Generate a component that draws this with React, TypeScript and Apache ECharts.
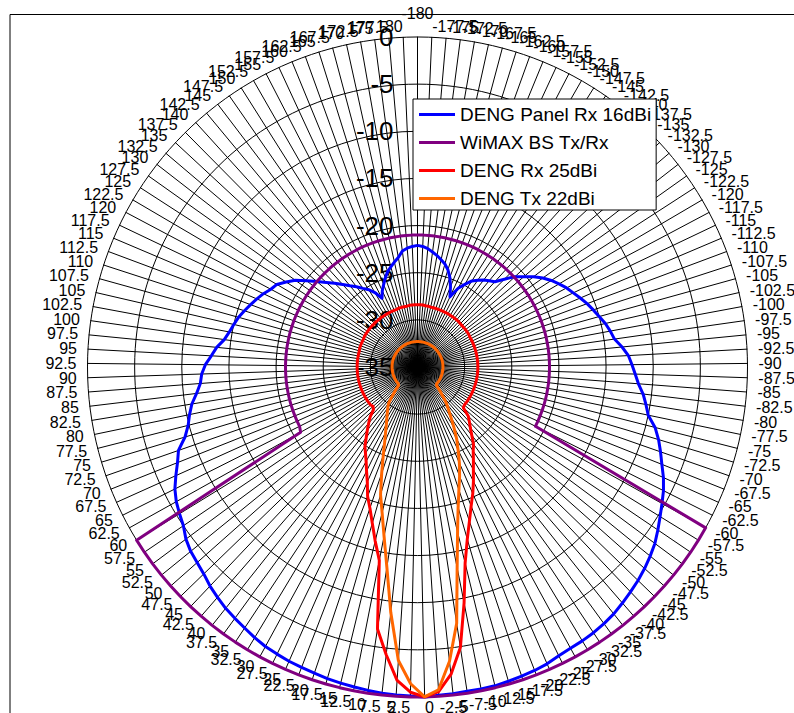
import { useEffect, useRef } from 'react';
import * as echarts from 'echarts';

const FONT = '"Liberation Sans", Arial, sans-serif';

// Angle categories (deg), clockwise from the top spoke: -180, -177.5, ..., 180
const categories: number[] = Array.from({ length: 145 }, (_, i) => -180 + i * 2.5);

// Radial tick labels (dB), centre -> rim
const radialTicks = [-35, -30, -25, -20, -15, -10, -5, 0];

const seriesNames = ['DENG Panel Rx 16dBi', 'WiMAX BS Tx/Rx', 'DENG Rx 25dBi', 'DENG Tx 22dBi'];
const seriesColors = ['#0000FF', '#800080', '#FF0000', '#FF6600'];

// Values in category order (-180 ... 180)
const panelRx16 = [
  -22.1, -22.2, -22.4, -22.7, -23.0, -23.35, -23.7, -24.2, -24.9, -25.8,
  -26.8, -25.6, -24.9, -24.2, -23.8, -23.4, -23.1, -22.8, -21.9, -20.9,
  -20.2, -19.4, -18.7, -18.1, -17.6, -17.1, -16.7, -16.25, -15.8, -15.4,
  -15.0, -14.55, -14.2, -13.9, -13.2, -12.6, -12.25, -11.9, -11.5, -10.9,
  -10.45, -10.0, -9.0, -8.3, -7.7, -7.1, -6.4, -5.8, -5.3, -4.77,
  -4.2, -3.63, -3.2, -2.8, -2.45, -2.15, -1.85, -1.55, -1.35, -1.2,
  -1.1, -1.05, -0.9, -0.65, -0.5, -0.4, -0.3, -0.2, -0.2, -0.2,
  -0.15, -0.1, 0, -0.1, -0.15, -0.2, -0.3, -0.4, -0.5, -0.6,
  -0.75, -0.85, -0.95, -1.1, -1.25, -1.5, -1.8, -2.05, -2.3, -2.65,
  -3.0, -3.45, -3.75, -4.0, -4.4, -5.0, -5.35, -5.7, -6.2, -6.9,
  -7.6, -8.15, -9.25, -9.9, -10.3, -10.75, -11.4, -11.9, -12.1, -12.5,
  -13.1, -13.6, -14.3, -14.7, -15.0, -15.3, -15.7, -16.1, -16.5, -16.9,
  -17.4, -17.7, -18.4, -19.1, -20.1, -21.0, -21.8, -22.5, -23.2, -23.8,
  -24.3, -24.85, -25.3, -25.9, -26.8, -26.1, -25.55, -24.95, -24.4, -24.0,
  -23.6, -23.2, -22.6, -22.35, -22.2,
];

const wimaxBs = [
  -21, -21, -21, -21, -21, -21, -21, -21, -21, -21,
  -21, -21, -21, -21, -21, -21, -21, -21, -21, -21,
  -21, -21, -21, -21, -21, -21, -21, -21, -21, -21,
  -21, -21, -21, -21, -21, -21, -21, -21, -21, -21,
  -21, -21, -21, -21, -21, -21, -21, -21, 0, 0,
  0, 0, 0, 0, 0, 0, 0, 0, 0, 0,
  0, 0, 0, 0, 0, 0, 0, 0, 0, 0,
  0, 0, 0, 0, 0, 0, 0, 0, 0, 0,
  0, 0, 0, 0, 0, 0, 0, 0, 0, 0,
  0, 0, 0, 0, 0, 0, 0, -20.8, -21, -21,
  -21, -21, -21, -21, -21, -21, -21, -21, -21, -21,
  -21, -21, -21, -21, -21, -21, -21, -21, -21, -21,
  -21, -21, -21, -21, -21, -21, -21, -21, -21, -21,
  -21, -21, -21, -21, -21, -21, -21, -21, -21, -21,
  -21, -21, -21, -21, -21,
];

const rx25 = [
  -28.4, -28.4, -28.4, -28.45, -28.45, -28.5, -28.5, -28.5, -28.5, -28.5,
  -28.5, -28.5, -28.5, -28.5, -28.5, -28.5, -28.5, -28.5, -28.55, -28.55,
  -28.55, -28.55, -28.55, -28.55, -28.6, -28.6, -28.6, -28.6, -28.6, -28.6,
  -28.6, -28.6, -28.6, -28.6, -28.6, -28.6, -28.6, -28.6, -28.6, -28.6,
  -28.6, -28.6, -28.6, -28.6, -28.6, -28.6, -28.6, -28.6, -28.6, -28.6,
  -28.6, -28.6, -28.6, -28.5, -27.5, -27.0, -26.45, -25.75, -24.9, -24.3,
  -23.5, -22.6, -21.5, -20.35, -19.2, -17.75, -16.0, -13.6, -9.5, -4.9,
  -2.2, -0.5, 0, -0.5, -1.7, -4.3, -6.9, -14.1, -16.0, -17.75,
  -19.2, -20.3, -21.7, -22.7, -23.6, -24.3, -24.9, -25.75, -26.45, -27.1,
  -27.7, -28.5, -28.7, -28.6, -28.6, -28.6, -28.6, -28.6, -28.6, -28.6,
  -28.6, -28.6, -28.6, -28.6, -28.6, -28.6, -28.6, -28.6, -28.6, -28.6,
  -28.6, -28.6, -28.6, -28.6, -28.6, -28.6, -28.55, -28.55, -28.55, -28.55,
  -28.55, -28.5, -28.5, -28.5, -28.5, -28.5, -28.5, -28.5, -28.5, -28.5,
  -28.5, -28.5, -28.5, -28.5, -28.5, -28.5, -28.5, -28.5, -28.45, -28.45,
  -28.45, -28.45, -28.4, -28.4, -28.4,
];

const tx22 = [
  -32.3, -32.3, -32.3, -32.3, -32.3, -32.3, -32.3, -32.3, -32.3, -32.3,
  -32.3, -32.3, -32.3, -32.3, -32.3, -32.3, -32.3, -32.3, -32.3, -32.3,
  -32.3, -32.3, -32.3, -32.3, -32.3, -32.3, -32.3, -32.3, -32.3, -32.3,
  -32.3, -32.3, -32.3, -32.3, -32.3, -32.3, -32.3, -32.3, -32.3, -32.3,
  -32.3, -32.3, -32.3, -32.3, -32.3, -32.3, -32.3, -32.3, -32.3, -32.3,
  -32.3, -32.3, -32.3, -32.3, -32.2, -31.6, -30.9, -30.06, -29.4, -28.55,
  -27.5, -26.3, -25.2, -23.9, -22.6, -21.25, -19.5, -17.0, -13.3, -7.5,
  -3.6, -0.7, 0, -1.4, -3.8, -8.8, -13.5, -16.7, -19.1, -20.9,
  -23.1, -24.9, -26.3, -27.3, -28.1, -28.7, -29.2, -29.65, -30.06, -30.9,
  -31.6, -32.2, -32.3, -32.3, -32.3, -32.3, -32.3, -32.3, -32.3, -32.3,
  -32.3, -32.3, -32.3, -32.3, -32.3, -32.3, -32.3, -32.3, -32.3, -32.3,
  -32.3, -32.3, -32.3, -32.3, -32.3, -32.3, -32.3, -32.3, -32.3, -32.3,
  -32.3, -32.3, -32.3, -32.3, -32.3, -32.3, -32.3, -32.3, -32.3, -32.3,
  -32.3, -32.3, -32.3, -32.3, -32.3, -32.3, -32.3, -32.3, -32.3, -32.3,
  -32.3, -32.3, -32.3, -32.3, -32.3,
];

const seriesValues = [panelRx16, wimaxBs, rx25, tx22];

export default function App() {
  const ref = useRef<HTMLDivElement>(null);

  useEffect(() => {
    if (!ref.current) return;
    const chart = echarts.init(ref.current, null, { renderer: 'svg' });

    // ECharts radar runs counter-clockwise; the reference runs clockwise from the top.
    const order = [0, ...Array.from({ length: categories.length - 1 }, (_, j) => categories.length - 1 - j)];

    const indicator: any[] = order.map((i) => ({
      name: String(categories[i]),
      min: radialTicks[0],
      max: radialTicks[radialTicks.length - 1],
    }));
    indicator[0].nameGap = 16;
    indicator[0].axisLabel = {
      show: true,
      color: '#000',
      fontSize: 26,
      fontFamily: FONT,
      margin: 24,
    };

    chart.setOption({
      animation: false,
      backgroundColor: '#fff',
      color: seriesColors,
      textStyle: { fontFamily: FONT },
      graphic: [
        { type: 'line', shape: { x1: 10, y1: 14.5, x2: 800, y2: 14.5 }, style: { stroke: '#000', lineWidth: 1 }, z: 0 },
        { type: 'line', shape: { x1: 10, y1: 14.5, x2: 10, y2: 720 }, style: { stroke: '#000', lineWidth: 1 }, z: 0 },
      ],
      legend: {
        orient: 'vertical',
        left: 413,
        top: 99,
        padding: [6, 5, 2, 6],
        itemGap: 9,
        itemWidth: 36,
        itemHeight: 3,
        icon: 'rect',
        backgroundColor: '#fff',
        borderColor: '#000',
        borderWidth: 1,
        borderRadius: 0,
        selectedMode: false,
        textStyle: { fontSize: 19, fontFamily: FONT, color: '#000' },
        data: seriesNames,
        z: 10,
      },
      radar: {
        center: [417.5, 367],
        radius: 330,
        startAngle: 90,
        shape: 'circle',
        splitNumber: radialTicks.length - 1,
        indicator,
        nameGap: 11,
        axisName: { color: '#000', fontSize: 16, fontFamily: FONT },
        axisLine: { lineStyle: { color: '#000', width: 1 } },
        splitLine: { lineStyle: { color: '#000', width: 1 } },
        splitArea: { show: false },
        axisTick: { show: false },
        axisLabel: { show: false },
      },
      series: [
        {
          type: 'radar',
          symbol: 'none',
          silent: true,
          data: seriesNames.map((name, k) => ({
            name,
            value: order.map((i) => seriesValues[k][i]),
            lineStyle: { color: seriesColors[k], width: 3 },
            itemStyle: { color: seriesColors[k] },
          })),
        },
      ],
    });

    return () => chart.dispose();
  }, []);

  return (
    <div
      ref={ref}
      style={{ position: 'absolute', left: 0, top: 0, width: 794, height: 713, background: '#fff' }}
    />
  );
}
